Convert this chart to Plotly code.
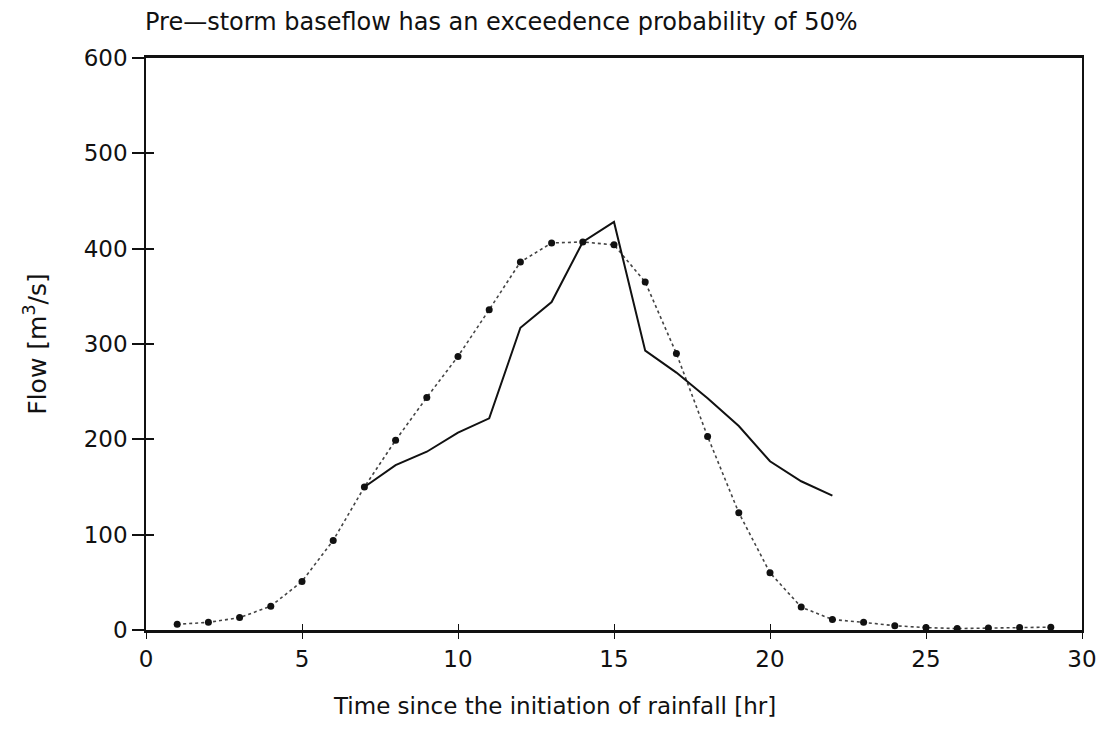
import plotly.graph_objects as go

# Time since rainfall started [hr]
hours_sim = list(range(1, 30))
flow_sim = [6, 8, 13, 25, 51, 94, 150, 199, 244, 287, 336, 386, 406, 407, 404,
            365, 290, 203, 123, 60, 24, 11, 8, 4.5, 2.5, 1.5, 2, 2.5, 3]

hours_obs = list(range(7, 23))
flow_obs = [150, 173, 187, 207, 222, 317, 344, 407, 428, 293, 270, 243, 214,
            177, 156, 141]

x_ticks = [0, 5, 10, 15, 20, 25, 30]
y_ticks = [0, 100, 200, 300, 400, 500, 600]

FONT = "DejaVu Sans"
INK = "#111111"

fig = go.Figure()

fig.add_trace(go.Scatter(
    x=hours_sim, y=flow_sim, mode="lines+markers",
    line=dict(color="#444444", width=1.6, dash="dot"),
    marker=dict(color=INK, size=7),
    showlegend=False,
))
fig.add_trace(go.Scatter(
    x=hours_obs, y=flow_obs, mode="lines",
    line=dict(color=INK, width=2),
    showlegend=False,
))

# overlay axes only draw the inside half of the tick crosses
fig.add_trace(go.Scatter(x=[None], y=[None], xaxis="x2", yaxis="y2",
                         showlegend=False, hoverinfo="skip"))

# x title sits a bit left of centre in the original, so it's an annotation
fig.add_annotation(text="Time since the initiation of rainfall [hr]",
                   xref="paper", yref="paper", x=0.436, y=-0.132,
                   xanchor="center", yanchor="middle", showarrow=False,
                   font=dict(family=FONT, size=23, color=INK))

# page body has an 8px margin, so the figure is a bit smaller than the window
fig.update_layout(
    width=1103, height=723,
    margin=dict(l=138, r=29, t=50, b=101),
    paper_bgcolor="white", plot_bgcolor="white",
    font=dict(family=FONT, size=22, color=INK),
    title=dict(text="Pre\u2014storm baseflow has an exceedence probability of 50%",
               x=137 / 1103, xanchor="left", y=1 - 14 / 723, yanchor="middle",
               font=dict(family=FONT, size=24, color=INK)),
    xaxis=dict(range=[0, 30], tickvals=x_ticks, showgrid=False, zeroline=False,
               showline=True, linecolor=INK, linewidth=3, mirror=True,
               ticks="outside", ticklen=6, tickwidth=1, tickcolor=INK,
               tickfont=dict(size=23)),
    yaxis=dict(range=[0, 600], tickvals=y_ticks, showgrid=False, zeroline=False,
               showline=True, linecolor=INK, linewidth=1.5, mirror=True,
               ticks="outside", ticklen=12, tickwidth=2, tickcolor=INK,
               tickfont=dict(size=23),
               title=dict(text="Flow [m<sup>3</sup>/s]", font=dict(size=25),
                          standoff=30)),
    xaxis2=dict(range=[0, 30], tickvals=x_ticks, overlaying="x", side="bottom",
                showticklabels=False, showgrid=False, zeroline=False,
                ticks="inside", ticklen=6, tickwidth=1, tickcolor=INK),
    yaxis2=dict(range=[0, 600], tickvals=y_ticks, overlaying="y", side="left",
                showticklabels=False, showgrid=False, zeroline=False,
                ticks="inside", ticklen=8, tickwidth=2, tickcolor=INK),
)

fig.write_html("out.html")
